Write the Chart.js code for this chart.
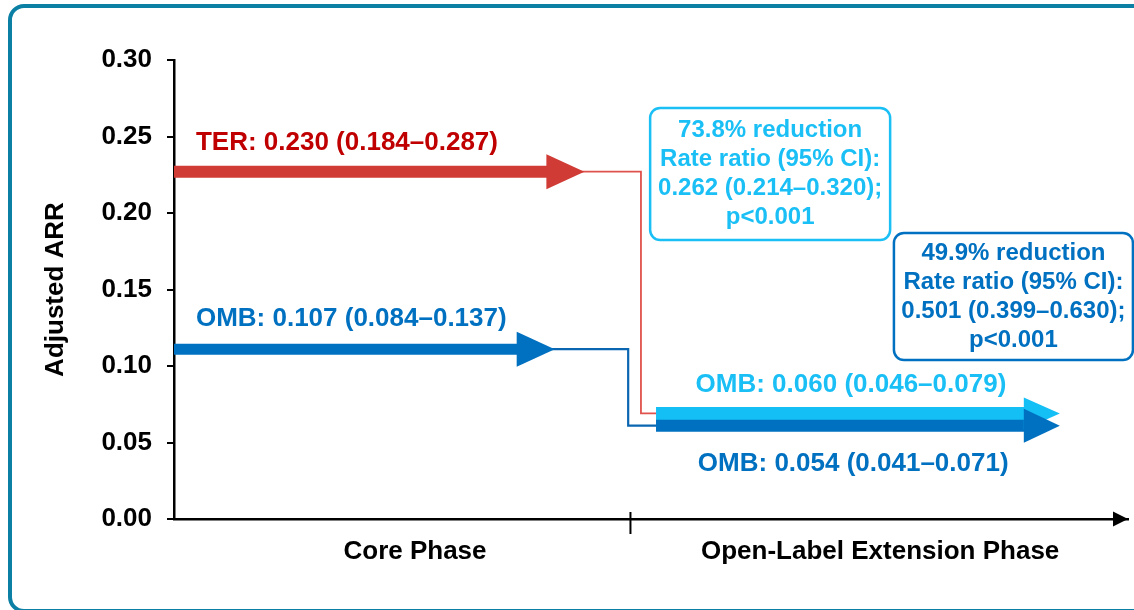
<!DOCTYPE html>
<html>
<head>
<meta charset="utf-8">
<script src="https://cdn.jsdelivr.net/npm/chart.js@4.4.1/dist/chart.umd.min.js"></script>
<style>
  body { margin: 0; background: #fff; }
  #wrap { position: relative; width: 1134px; height: 610px; overflow: hidden; }
  #frame { position: absolute; left: 8px; top: 4px; width: 1140px; height: 601px;
           border: 4px solid #0b80a4; border-radius: 16px; pointer-events: none; }
</style>
</head>
<body>
<div id="wrap">
  <canvas id="arrChart" width="1134" height="610"></canvas>
  <div id="frame"></div>
</div>
<script>
// x axis: 0 = start of core phase, 1 = start of open-label extension
var phaseLabels = ['Core Phase', 'Open-Label Extension Phase'];
var phaseLabelAt = [0.528, 1.547];
var phaseDivider = 1;

// adjusted ARR
var terCore = [{x: 0, y: 0.227}, {x: 0.818, y: 0.227}];
var ombCore = [{x: 0, y: 0.111}, {x: 0.753, y: 0.111}];
var terSwitch = [{x: 0.818, y: 0.227}, {x: 1.023, y: 0.227}, {x: 1.023, y: 0.069}, {x: 1.056, y: 0.069}];
var ombSwitch = [{x: 0.753, y: 0.111}, {x: 0.995, y: 0.111}, {x: 0.995, y: 0.061}, {x: 1.056, y: 0.061}];
var terOle = [{x: 1.056, y: 0.069}, {x: 1.864, y: 0.069}];
var ombOle = [{x: 1.056, y: 0.061}, {x: 1.864, y: 0.061}];

var valueLabels = [
  {text: 'TER: 0.230 (0.184–0.287)', x: 0.048, y: 0.246, color: '#c00000', align: 'left'},
  {text: 'OMB: 0.107 (0.084–0.137)', x: 0.048, y: 0.131, color: '#0070c0', align: 'left'},
  {text: 'OMB: 0.060 (0.046–0.079)', x: 1.483, y: 0.088, color: '#19bff5', align: 'center'},
  {text: 'OMB: 0.054 (0.041–0.071)', x: 1.488, y: 0.036, color: '#0070c0', align: 'center'}
];

var ratioBoxes = [
  {lines: ['73.8% reduction', 'Rate ratio (95% CI):', '0.262 (0.214–0.320);', 'p<0.001'],
   x: 1.306, y: 0.2255, w: 240, h: 132, color: '#19bff5'},
  {lines: ['49.9% reduction', 'Rate ratio (95% CI):', '0.501 (0.399–0.630);', 'p<0.001'],
   x: 1.839, y: 0.1454, w: 239, h: 127, color: '#0070c0'}
];

Chart.defaults.font.family = '"Liberation Sans", Arial, sans-serif';
Chart.defaults.color = '#000';

function fontStr(size) {
  return 'bold ' + size + 'px "Liberation Sans", Arial, sans-serif';
}

var arrowHeads = {
  id: 'arrowHeads',
  afterDatasetsDraw(chart) {
    var ctx = chart.ctx;
    for (var i = chart.data.datasets.length - 1; i >= 0; i--) {
      var ds = chart.data.datasets[i];
      if (!ds.headLength) continue;
      var pts = chart.getDatasetMeta(i).data;
      var p = pts[pts.length - 1];
      ctx.save();
      ctx.fillStyle = ds.borderColor;
      ctx.beginPath();
      ctx.moveTo(p.x - 1, p.y - ds.headHalf);
      ctx.lineTo(p.x + ds.headLength, p.y);
      ctx.lineTo(p.x - 1, p.y + ds.headHalf);
      ctx.closePath();
      ctx.fill();
      ctx.restore();
    }
  }
};

var axisExtras = {
  id: 'axisExtras',
  afterDraw(chart) {
    var a = chart.chartArea, ctx = chart.ctx;
    var xs = chart.scales.x, ys = chart.scales.y;
    var xd = xs.getPixelForValue(phaseDivider);
    ctx.save();
    ctx.strokeStyle = '#000';
    ctx.lineWidth = 2;
    ctx.beginPath();
    ctx.moveTo(xd, a.bottom - 7);
    ctx.lineTo(xd, a.bottom + 15);
    ctx.stroke();
    ctx.fillStyle = '#000';
    ctx.beginPath();
    ctx.moveTo(a.right - 15, a.bottom - 7.5);
    ctx.lineTo(a.right, a.bottom);
    ctx.lineTo(a.right - 15, a.bottom + 7.5);
    ctx.closePath();
    ctx.fill();

    // value labels
    ctx.font = fontStr(26);
    ctx.textBaseline = 'middle';
    valueLabels.forEach(function (l) {
      ctx.fillStyle = l.color;
      ctx.textAlign = l.align;
      ctx.fillText(l.text, xs.getPixelForValue(l.x), ys.getPixelForValue(l.y));
    });

    // rate ratio boxes
    ratioBoxes.forEach(function (b) {
      var cx = xs.getPixelForValue(b.x), cy = ys.getPixelForValue(b.y);
      ctx.fillStyle = '#fff';
      ctx.strokeStyle = b.color;
      ctx.lineWidth = 2.5;
      ctx.beginPath();
      ctx.roundRect(cx - b.w / 2, cy - b.h / 2, b.w, b.h, 10);
      ctx.fill();
      ctx.stroke();
      ctx.fillStyle = b.color;
      ctx.font = fontStr(24);
      ctx.textAlign = 'center';
      b.lines.forEach(function (t, k) {
        ctx.fillText(t, cx, cy + (k - 1.5) * 29);
      });
    });
    ctx.restore();
  }
};

function lineSet(data, color, width) {
  return {
    data: data, borderColor: color, backgroundColor: color, borderWidth: width,
    pointRadius: 0, tension: 0, fill: false,
    borderCapStyle: 'butt', borderJoinStyle: 'miter'
  };
}

var dsOmbOle = lineSet(ombOle, '#0070c0', 12);
dsOmbOle.headLength = 35; dsOmbOle.headHalf = 17;
var dsTerOle = lineSet(terOle, '#14bff5', 13);
dsTerOle.headLength = 35; dsTerOle.headHalf = 16;
var dsTerCore = lineSet(terCore, '#d13b35', 12);
dsTerCore.headLength = 37; dsTerCore.headHalf = 17.5;
var dsOmbCore = lineSet(ombCore, '#0070c0', 11);
dsOmbCore.headLength = 37; dsOmbCore.headHalf = 17.5;

new Chart(document.getElementById('arrChart'), {
  type: 'line',
  data: {
    datasets: [
      dsOmbOle, dsTerOle, dsTerCore, dsOmbCore,
      lineSet(terSwitch, '#e0524c', 1.8),
      lineSet(ombSwitch, '#0b66b2', 2.2)
    ]
  },
  options: {
    responsive: false,
    animation: false,
    layout: { padding: { left: 0, top: 60, right: 6, bottom: 0 } },
    plugins: { legend: { display: false }, tooltip: { enabled: false } },
    scales: {
      x: {
        type: 'linear', min: 0, max: 2.09,
        afterBuildTicks: function (scale) {
          scale.ticks = phaseLabelAt.map(function (v) { return {value: v}; });
        },
        afterFit: function (scale) { scale.height = 91; },
        ticks: {
          autoSkip: false, maxRotation: 0, padding: 17,
          font: { size: 26, weight: 'bold' },
          callback: function (v, i) { return phaseLabels[i]; }
        },
        grid: { display: false, drawTicks: false },
        border: { display: true, color: '#000', width: 2.5 }
      },
      y: {
        min: 0, max: 0.30,
        afterFit: function (scale) { scale.width = 174; },
        ticks: {
          stepSize: 0.05, padding: 15,
          font: { size: 26, weight: 'bold' },
          callback: function (v) { return v.toFixed(2); }
        },
        grid: { drawOnChartArea: false, drawTicks: true, tickLength: 7, color: '#000', lineWidth: 2 },
        border: { display: true, color: '#000', width: 2.5 },
        title: {
          display: true, text: 'Adjusted ARR',
          font: { size: 26, weight: 'bold' },
          padding: { top: 40, bottom: 0 }
        }
      }
    }
  },
  plugins: [arrowHeads, axisExtras]
});
</script>
</body>
</html>
